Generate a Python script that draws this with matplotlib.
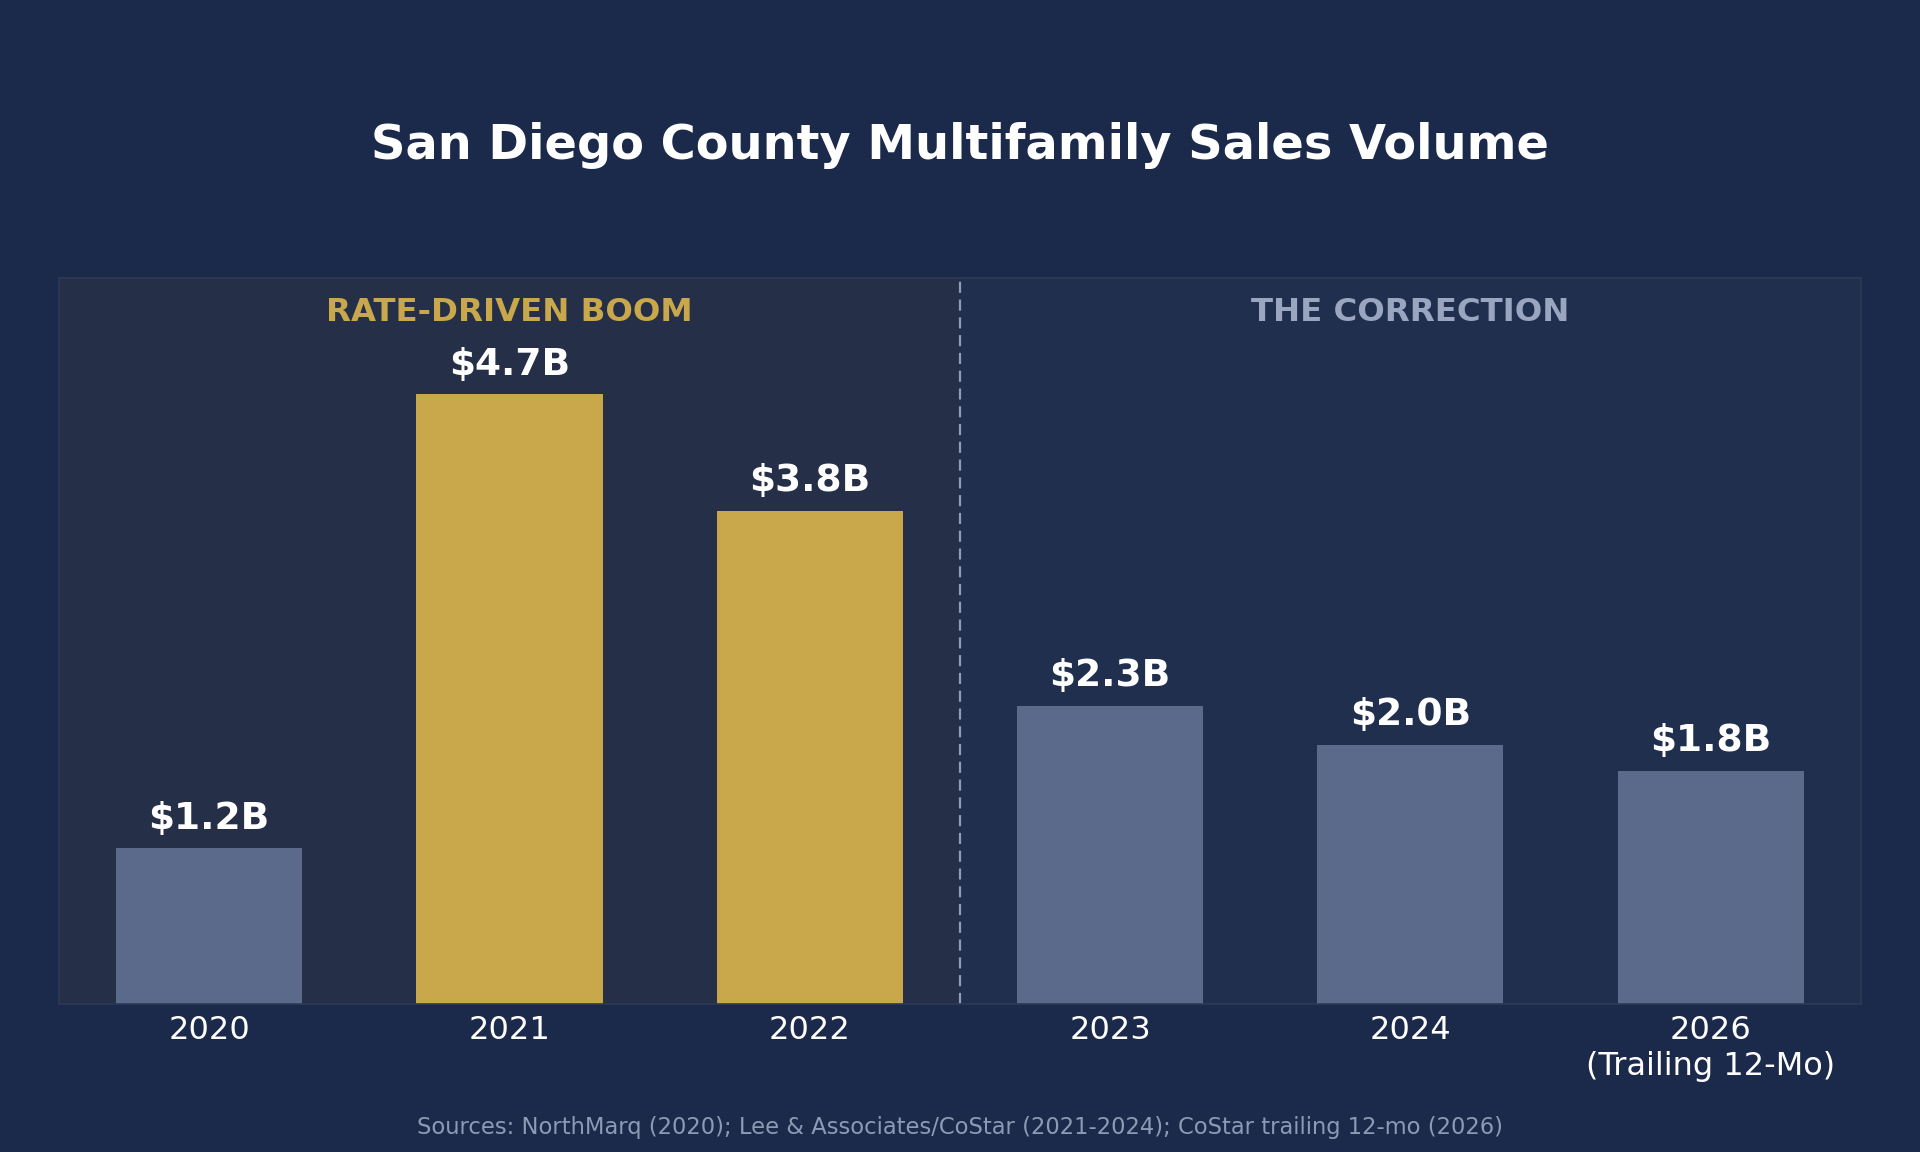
import matplotlib.pyplot as plt
import numpy as np

# data
years = ['2020', '2021', '2022', '2023', '2024', '2026\n(Trailing 12-Mo)']
volume_b = [1.2, 4.7, 3.8, 2.3, 2.0, 1.8]
value_labels = ['$1.2B', '$4.7B', '$3.8B', '$2.3B', '$2.0B', '$1.8B']
boom_years = ['2021', '2022']
section_names = ['RATE-DRIVEN BOOM', 'THE CORRECTION']

BG = '#1b2a4a'
GOLD = '#c9a84c'
SLATE = '#5b6a8a'

fig = plt.figure(figsize=(19.2, 11.52), dpi=100, facecolor=BG)
ax = fig.add_axes([0.0307, 0.1285, 0.9385, 0.6305])
ax.set_facecolor(BG)

x = np.arange(len(years))
split = 2.5

# shaded regimes
ax.axvspan(-0.5, split, color='#252f48', zorder=0, lw=0)
ax.axvspan(split, len(years) - 0.5, color='#212f4f', zorder=0, lw=0)
ax.axvline(split, color='#8f9cb8', ls=(0, (5, 3)), lw=1.6, zorder=1)

colors = [GOLD if y.split('\n')[0] in boom_years else SLATE for y in years]
bars = ax.bar(x, volume_b, width=0.62, color=colors, zorder=2, lw=0)

for b, lab in zip(bars, value_labels):
    ax.annotate(lab, (b.get_x() + b.get_width() / 2, b.get_height()),
                xytext=(0, 8.5), textcoords='offset points', ha='center', va='bottom',
                fontsize=27, fontweight='bold', color='white')

ax.text(1, 5.33, section_names[0], ha='center', va='center', fontsize=23.3,
        fontweight='bold', color=GOLD)
ax.text(4, 5.33, section_names[1], ha='center', va='center', fontsize=23.3,
        fontweight='bold', color='#9aa5c0')

ax.set_xlim(-0.5, len(years) - 0.5)
ax.set_ylim(0, 5.6)
ax.set_xticks(x)
ax.set_xticklabels(years, fontsize=23, color='white', linespacing=1.2)
ax.set_yticks([])
ax.tick_params(axis='x', length=0, pad=8)
for s in ax.spines.values():
    s.set_color('#2c3957')
    s.set_linewidth(1.2)

fig.text(0.5, 0.874, 'San Diego County Multifamily Sales Volume', ha='center', va='center',
         fontsize=34.5, fontweight='bold', color='white')
fig.text(0.5, 0.021, 'Sources: NorthMarq (2020); Lee & Associates/CoStar (2021-2024); CoStar trailing 12-mo (2026)',
         ha='center', va='center', fontsize=16.3, color='#8e9ab5')

fig.savefig('out.png', dpi=100, facecolor=BG)
